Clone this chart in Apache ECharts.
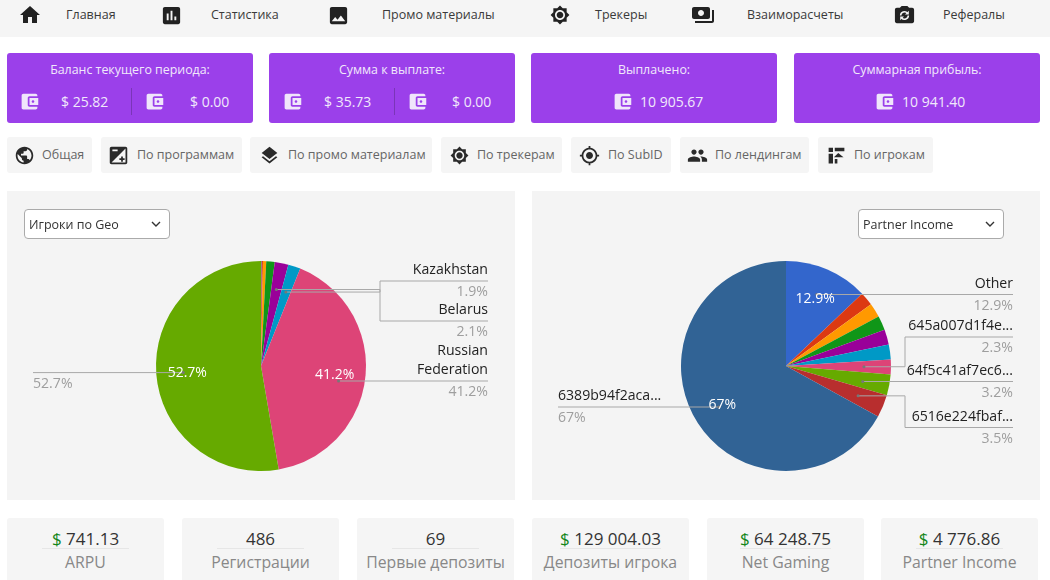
<!DOCTYPE html>
<html lang="ru">
<head>
<meta charset="utf-8">
<title>Статистика</title>
<script src="https://cdn.jsdelivr.net/npm/echarts@6/dist/echarts.min.js"></script>
<style>
  html, body { margin: 0; padding: 0; width: 1050px; height: 580px; overflow: hidden; background: #fff; }
  body { font-family: "Open Sans", sans-serif; color: #333; position: relative; }
  .abs, .nav-text, .tab, .card, .panel, .stat, .ico, .card-text, .divider { position: absolute; }
  #nav { position: absolute; left: 0; top: 0; width: 1050px; height: 37px; background: #f5f5f5; }
  .nav-text { top: 5px; font-size: 12.5px; line-height: 20px; white-space: nowrap; color: #3a3a3a; }
  .card { top: 53px; height: 70px; background: #9b40ea; border-radius: 3px; }
  .card-text { color: #f1e8fb; white-space: nowrap; line-height: 20px; }
  .divider { top: 88px; width: 1px; height: 27px; background: #7a35b8; }
  .tab { top: 137px; height: 36px; background: #f5f5f5; border-radius: 3px; }
  .tab span { position: absolute; top: 8px; font-size: 12.5px; line-height: 20px; color: #666; white-space: nowrap; }
  .panel { top: 191px; width: 508px; height: 309px; background: #f4f4f4; }
  .chart { position: absolute; left: 0; top: 0; width: 508px; height: 309px; }
  select { position: absolute; top: 18px; width: 146px; height: 30px; padding: 0 4px; font: 12.5px "Open Sans", sans-serif; color: #333; border: 1px solid #aaa; border-radius: 4px; z-index: 2; appearance: none; -webkit-appearance: none;
    background: #fff url("data:image/svg+xml,%3Csvg xmlns='http://www.w3.org/2000/svg' width='10' height='6'%3E%3Cpath d='M1 1l4 4 4-4' fill='none' stroke='%23333' stroke-width='1.4'/%3E%3C/svg%3E") no-repeat right 8px center; }
  .stat { top: 518px; width: 157px; height: 80px; background: #f5f5f5; border-radius: 3px; text-align: center; }
  .stat b { display: inline-block; font-weight: 400; font-size: 17px; line-height: 24px; margin-top: 9px; color: #333; min-width: 87px; border-bottom: 1px solid #e6e6e6; height: 21px; }
  .stat b i { font-style: normal; color: #14861a; }
  .stat div { font-size: 15.8px; line-height: 24px; color: #888; margin-top: 0; white-space: nowrap; }
</style>
</head>
<body>
<div id="nav"></div>
<div class="panel" style="left:7px"><select style="left:17px"><option>Игроки по Geo</option></select><div id="geoChart" class="chart"></div></div>
<div class="panel" style="left:532px"><select style="left:326px"><option>Partner Income</option></select><div id="incomeChart" class="chart"></div></div>

<script>
// данные круговых диаграмм
var geoNames = ['n/a 1', 'n/a 2', 'n/a 3', 'n/a 4', 'Belarus', 'Kazakhstan', 'Russian Federation', 'n/a 5']
var geoValues = [0.1, 0.2, 0.5, 1.3, 2.1, 1.9, 41.2, 52.7]
var incomeNames = ['Other', 'n/a 1', 'n/a 2', 'n/a 3', 'n/a 4', 'n/a 5', '645a007d1f4e...', '64f5c41af7ec6...', '6516e224fbaf...', '6389b94f2aca...']
var incomeValues = [12.9, 2.1, 2.2, 2.2, 2.3, 2.3, 2.3, 3.2, 3.5, 67]
var sliceColors = ['#3366cc', '#dc3912', '#ff9900', '#109618', '#990099', '#0099c6', '#dd4477', '#66aa00', '#b82e2e', '#316395']

// шапка, карточки, вкладки, показатели
var navLabels = ['Главная', 'Статистика', 'Промо материалы', 'Трекеры', 'Взаиморасчеты', 'Рефералы']
var cardTitles = ['Баланс текущего периода:', 'Сумма к выплате:', 'Выплачено:', 'Суммарная прибыль:']
var tabLabels = ['Общая', 'По программам', 'По промо материалам', 'По трекерам', 'По SubID', 'По лендингам', 'По игрокам']
var statValues = ['741.13', '486', '69', '129 004.03', '64 248.75', '4 776.86']
var statMoney = [true, false, false, true, true, true]
var statLabels = ['ARPU', 'Регистрации', 'Первые депозиты', 'Депозиты игрока', 'Net Gaming', 'Partner Income']

var icons = {
    home: 'M10 20v-6h4v6h5v-8h3L12 3 2 12h3v8z',
    chart: 'M19 3H5c-1.1 0-2 .9-2 2v14c0 1.1.9 2 2 2h14c1.1 0 2-.9 2-2V5c0-1.1-.9-2-2-2zM9 17H7v-7h2v7zm4 0h-2V7h2v10zm4 0h-2v-4h2v4z',
    photo: 'M21 19V5c0-1.1-.9-2-2-2H5c-1.1 0-2 .9-2 2v14c0 1.1.9 2 2 2h14c1.1 0 2-.9 2-2zM8.5 13.5l2.5 3.01L14.5 12l4.5 6H5l3.5-4.5z',
    tracker: 'M20 8.69V4h-4.69L12 .69 8.69 4H4v4.69L.69 12 4 15.31V20h4.69L12 23.31 15.31 20H20v-4.69L23.31 12 20 8.69zM12 18c-3.31 0-6-2.69-6-6s2.69-6 6-6 6 2.69 6 6-2.69 6-6 6zm0-10c-2.21 0-4 1.79-4 4s1.79 4 4 4 4-1.79 4-4-1.79-4-4-4z',
    money: 'M19 14V6c0-1.1-.9-2-2-2H3c-1.1 0-2 .9-2 2v8c0 1.1.9 2 2 2h14c1.1 0 2-.9 2-2zm-9-1c-1.66 0-3-1.34-3-3s1.34-3 3-3 3 1.34 3 3-1.34 3-3 3zm13-6v11c0 1.1-.9 2-2 2H4v-2h17V7h2z',
    camera: 'M20 4h-3.17L15 2H9L7.17 4H4c-1.1 0-2 .9-2 2v12c0 1.1.9 2 2 2h16c1.1 0 2-.9 2-2V6c0-1.1-.9-2-2-2z',
    wallet: 'M21 18v1c0 1.1-.9 2-2 2H5c-1.11 0-2-.9-2-2V5c0-1.1.89-2 2-2h14c1.1 0 2 .9 2 2v1h-9c-1.11 0-2 .9-2 2v8c0 1.1.89 2 2 2h9zm-9-2h10V8H12v8zm4-2.5c-.83 0-1.5-.67-1.5-1.5s.67-1.5 1.5-1.5 1.5.67 1.5 1.5-.67 1.5-1.5 1.5z',
    globe: 'M12 2C6.48 2 2 6.48 2 12s4.48 10 10 10 10-4.48 10-10S17.52 2 12 2zm-1 17.93c-3.95-.49-7-3.85-7-7.93 0-.62.08-1.21.21-1.79L9 15v1c0 1.1.9 2 2 2v1.93zm6.9-2.54c-.26-.81-1-1.39-1.9-1.39h-1v-3c0-.55-.45-1-1-1H8v-2h2c.55 0 1-.45 1-1V7h2c1.1 0 2-.9 2-2v-.41c2.93 1.19 5 4.06 5 7.41 0 2.08-.8 3.97-2.1 5.39z',
    exposure: 'M15 17v2h2v-2h2v-2h-2v-2h-2v2h-2v2h2zm5-15H4c-1.1 0-2 .9-2 2v16c0 1.1.9 2 2 2h16c1.1 0 2-.9 2-2V4c0-1.1-.9-2-2-2zM5 5h6v2H5V5zm15 15H4L20 4v16z',
    layers: 'M11.99 18.54l-7.37-5.73L3 14.07l9 7 9-7-1.63-1.27-7.38 5.74zM12 16l7.36-5.73L21 9l-9-7-9 7 1.63 1.27L12 16z',
    gps: 'M12 8c-2.21 0-4 1.79-4 4s1.79 4 4 4 4-1.79 4-4-1.79-4-4-4zm8.94 3c-.46-4.17-3.77-7.48-7.94-7.94V1h-2v2.06C6.83 3.52 3.52 6.83 3.06 11H1v2h2.06c.46 4.17 3.77 7.48 7.94 7.94V23h2v-2.06c4.17-.46 7.48-3.77 7.94-7.94H23v-2h-2.06zM12 19c-3.87 0-7-3.13-7-7s3.13-7 7-7 7 3.13 7 7-3.13 7-7 7z',
    people: 'M16 11c1.66 0 2.99-1.34 2.99-3S17.66 5 16 5c-1.66 0-3 1.34-3 3s1.34 3 3 3zm-8 0c1.66 0 2.99-1.34 2.99-3S9.66 5 8 5C6.34 5 5 6.34 5 8s1.34 3 3 3zm0 2c-2.33 0-7 1.17-7 3.5V19h14v-2.5c0-2.33-4.67-3.5-7-3.5zm8 0c-.29 0-.62.02-.97.05 1.16.84 1.97 1.97 1.97 3.45V19h6v-2.5c0-2.33-4.67-3.5-7-3.5z',
    blocks: 'M3 3h5v5H3zM10 3h11v4H10zM3 10h5v11H3zM14 9l6 5H9zM10 16h3v5h-3z'
}

function addIcon(name, cx, cy, size, color) {
    var el = document.createElementNS('http://www.w3.org/2000/svg', 'svg')
    el.setAttribute('viewBox', '0 0 24 24')
    el.setAttribute('class', 'ico')
    el.setAttribute('style', 'left:' + (cx - size / 2) + 'px;top:' + (cy - size / 2) + 'px;width:' + size + 'px;height:' + size + 'px;z-index:1')
    var html = '<path fill="' + color + '" d="' + icons[name] + '"/>'
    // круговые стрелки на значке камеры
    if (name === 'camera') html += '<path fill="none" stroke="#f5f5f5" stroke-width="1.6" d="M8 12a4 4 0 0 1 7-2.6M16 12a4 4 0 0 1-7 2.6"/><path fill="#f5f5f5" d="M16.5 7v4h-4zM7.5 17v-4h4z"/>'
    el.innerHTML = html
    document.body.appendChild(el)
}

function addDiv(cls, style, html) {
    var el = document.createElement('div')
    el.className = cls
    el.setAttribute('style', style)
    el.innerHTML = html || ''
    document.body.appendChild(el)
    return el
}

// 1. шапка
var navIcons = ['home', 'chart', 'photo', 'tracker', 'money', 'camera']
var navIconX = [30, 171, 338, 560, 703, 904]
var navIconSize = [24, 23, 23, 20, 24, 23]
var navTextX = [66, 211, 382, 595, 747, 943]
navLabels.forEach(function (label, i) {
    addIcon(navIcons[i], navIconX[i], 15, navIconSize[i], '#222')
    addDiv('nav-text', 'left:' + navTextX[i] + 'px', label)
})

// 2. карточки баланса
var cardX = [7, 269, 531, 794]
cardTitles.forEach(function (title, i) {
    addDiv('card', 'left:' + cardX[i] + 'px;width:246px')
    addDiv('card-text', 'left:' + cardX[i] + 'px;width:246px;top:60px;text-align:center;font-size:12.4px', title)
})
function addMoney(iconX, textX, text) {
    addIcon('wallet', iconX, 101, 21, '#f0e6fb')
    addDiv('card-text', 'left:' + textX + 'px;top:92px;font-size:14px', text)
}
addMoney(29, 61, '$ 25.82')
addDiv('divider', 'left:131px')
addMoney(154, 190, '$ 0.00')
addMoney(292, 324, '$ 35.73')
addDiv('divider', 'left:394px')
addMoney(417, 452, '$ 0.00')
addMoney(622, 640, '10 905.67')
addMoney(884, 902, '10 941.40')

// 3. вкладки
var tabIcons = ['globe', 'exposure', 'layers', 'tracker', 'gps', 'people', 'blocks']
var tabX = [7, 101, 250, 441, 571, 680, 818]
var tabW = [85, 141, 182, 121, 100, 129, 115]
var tabTextX = [35, 36, 38, 36, 37, 35, 36]
var tabIconX = [24, 118, 269, 459, 589, 697, 836]
var tabIconSize = [21, 21, 21, 19, 21, 21, 21]
tabLabels.forEach(function (label, i) {
    addDiv('tab', 'left:' + tabX[i] + 'px;width:' + tabW[i] + 'px', '<span style="left:' + tabTextX[i] + 'px">' + label + '</span>')
    addIcon(tabIcons[i], tabIconX[i], 155, tabIconSize[i], '#2a2a2a')
})

// 4. показатели снизу
var statX = [7, 182, 357, 532, 707, 881]
statValues.forEach(function (value, i) {
    var money = statMoney[i] ? '<i>$</i> ' : ''
    addDiv('stat', 'left:' + statX[i] + 'px', '<b>' + money + value + '</b><div>' + statLabels[i] + '</div>')
})

// 5. круговые диаграммы: центр и радиус внутри панели
var PIE_X = 254, PIE_Y = 175, PIE_R = 105, ANCHOR_R = 78, EDGE_X = 481, FAR_X = 26

function midAngle(values, index) {
    var total = values.reduce(function (a, b) { return a + b }, 0)
    var before = values.slice(0, index).reduce(function (a, b) { return a + b }, 0)
    return (before + values[index] / 2) / total * Math.PI * 2
}

function renderPie(dom, names, values, notes, inside) {
    var graphic = []

    notes.forEach(function (note) {
        var a = midAngle(values, note.index)
        var dotX = PIE_X + ANCHOR_R * Math.sin(a)
        var dotY = note.dotY || PIE_Y - ANCHOR_R * Math.cos(a)
        var left = note.side === 'left'
        var endX = left ? FAR_X : EDGE_X
        var lineY = note.lineY === undefined ? dotY : note.lineY
        var points = note.elbowX ? [[dotX, dotY], [note.elbowX, dotY], [note.elbowX, lineY], [endX, lineY]] : [[dotX, dotY], [endX, lineY]]
        graphic.push({ type: 'polyline', silent: true, z: 10, shape: { points: points }, style: { fill: null, stroke: '#a8a8a8', lineWidth: 1 } })
        graphic.push({ type: 'circle', silent: true, z: 11, shape: { cx: dotX, cy: dotY, r: 1.5 }, style: { fill: '#777' } })

        var nameLines = note.label || []
        nameLines.forEach(function (text, k) {
            graphic.push({
                type: 'text', silent: true, z: 12, x: endX, y: lineY - 11 - (nameLines.length - 1 - k) * 19,
                style: { text: text, align: left ? 'left' : 'right', verticalAlign: 'middle', fontFamily: 'Open Sans', fontSize: 14.1, fill: '#222' }
            })
        })
        graphic.push({
            type: 'text', silent: true, z: 12, x: endX, y: lineY + 11,
            style: { text: values[note.index] + '%', align: left ? 'left' : 'right', verticalAlign: 'middle', fontFamily: 'Open Sans', fontSize: 14.1, fill: '#9e9e9e' }
        })
    })

    inside.forEach(function (index) {
        var a = midAngle(values, index)
        graphic.push({
            type: 'text', silent: true, z: 13, x: PIE_X + 74 * Math.sin(a), y: PIE_Y - 74 * Math.cos(a) + 1,
            style: { text: values[index] + '%', align: 'center', verticalAlign: 'middle', fontFamily: 'Open Sans', fontSize: 14, fill: '#fff' }
        })
    })

    var option = {
        animation: false,
        color: sliceColors,
        graphic: graphic,
        series: {
            type: 'pie',
            center: [PIE_X, PIE_Y],
            radius: [0, PIE_R],
            startAngle: 90,
            clockwise: true,
            silent: true,
            label: { show: false },
            labelLine: { show: false },
            data: names.map(function (name, i) { return { name: name, value: values[i] } })
        }
    }
    var chart = echarts.init(dom)
    chart.setOption(option, true)
}

renderPie(document.querySelector('#geoChart'), geoNames, geoValues, [
    { index: 5, label: ['Kazakhstan'], elbowX: 373, lineY: 90 },
    { index: 4, label: ['Belarus'], elbowX: 373, lineY: 130 },
    { index: 6, label: ['Russian', 'Federation'], dotY: 190, lineY: 190 },
    { index: 7, side: 'left' }
], [6, 7])

renderPie(document.querySelector('#incomeChart'), incomeNames, incomeValues, [
    { index: 0, label: ['Other'], dotY: 103.5 },
    { index: 6, label: ['645a007d1f4e...'], elbowX: 373, lineY: 146 },
    { index: 7, label: ['64f5c41af7ec6...'], dotY: 190.5 },
    { index: 8, label: ['6516e224fbaf...'], elbowX: 373, lineY: 236.5 },
    { index: 9, label: ['6389b94f2aca...'], side: 'left', dotY: 216 }
], [0, 9])
</script>
</body>
</html>
